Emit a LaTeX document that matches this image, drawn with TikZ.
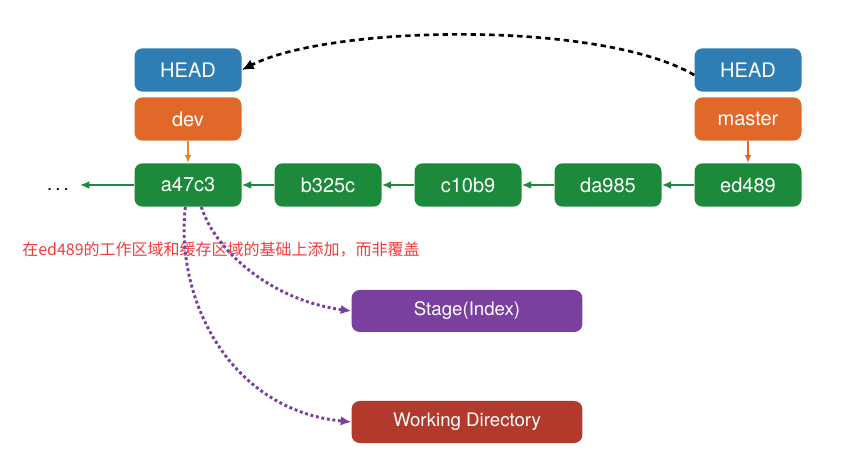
\documentclass[tikz,border=0pt]{standalone}
\usepackage{fontspec}
\setmainfont{TeX Gyre Heros}
\newfontfamily\cjk{Noto Sans CJK SC}
\usetikzlibrary{arrows.meta}
\definecolor{cblue}{HTML}{2F7EB3}
\definecolor{corange}{HTML}{E0692A}
\definecolor{cgreen}{HTML}{1C8A3A}
\definecolor{cpurple}{HTML}{7B3F9F}
\definecolor{cred}{HTML}{B23A2C}
\definecolor{ctext}{HTML}{F03C3C}
\begin{document}
\begin{tikzpicture}[x=0.75pt,y=-0.75pt,
  box/.style={rounded corners=6pt,text=white,minimum width=80.25pt,minimum height=32.5pt,inner sep=0pt,font=\fontsize{15}{18}\selectfont},
  wide/.style={box,minimum width=173pt,minimum height=31.5pt,font=\fontsize{14}{17}\selectfont},
  garrow/.style={-{Latex[length=7pt,width=6pt]},cgreen,line width=1.5pt},
  parrow/.style={-{Latex[length=8pt,width=7pt]},cpurple,line width=2.2pt,dotted}]
\useasboundingbox (0,0) rectangle (860,459);
\node[box,fill=cblue] (h1) at (188,70) {HEAD};
\node[box,fill=corange] (dev) at (188,119) {dev};
\node[box,fill=cgreen] (a) at (188,185) {a47c3};
\node[box,fill=cgreen] (b) at (328,185) {b325c};
\node[box,fill=cgreen] (c) at (468,185) {c10b9};
\node[box,fill=cgreen] (d) at (608,185) {da985};
\node[box,fill=cgreen] (e) at (748,185) {ed489};
\node[box,fill=cblue] (h2) at (748,70) {HEAD};
\node[box,fill=corange] (m) at (748,119) {master};
\node[wide,fill=cpurple] (s) at (467,311) {Stage(Index)};
\node[wide,fill=cred] (w) at (467,422) {Working Directory};
\node (dots) at (58,190) {\fontsize{14}{16}\selectfont .\,.\,.};
\coordinate (dl) at (80,185);
\node[anchor=west,text=ctext,inner sep=0pt] (t) at (22,250) {\cjk\fontsize{12}{14}\selectfont 在ed489的工作区域和缓存区域的基础上添加，而非覆盖};
\draw[garrow] (e) -- (d);
\draw[garrow] (d) -- (c);
\draw[garrow] (c) -- (b);
\draw[garrow] (b) -- (a);
\draw[garrow] (a) -- (dl);
\draw[-{Latex[length=6pt,width=5pt]},corange!80!yellow,line width=1.2pt] (dev) -- (a);
\draw[-{Latex[length=6pt,width=5pt]},corange,line width=1.2pt] (m) -- (e);
\draw[-{Latex[length=9pt,width=8pt]},black,line width=2pt,dash pattern=on 4pt off 3pt] (h2.west) ++(0,5) .. controls (600,20) and (330,25) .. (h1.east);
\draw[parrow] ([xshift=10pt]a.south) .. controls (215,250) and (270,300) .. (s.west);
\draw[parrow] ([xshift=-2pt]a.south) .. controls (175,300) and (230,410) .. (w.west);
\end{tikzpicture}
\end{document}
